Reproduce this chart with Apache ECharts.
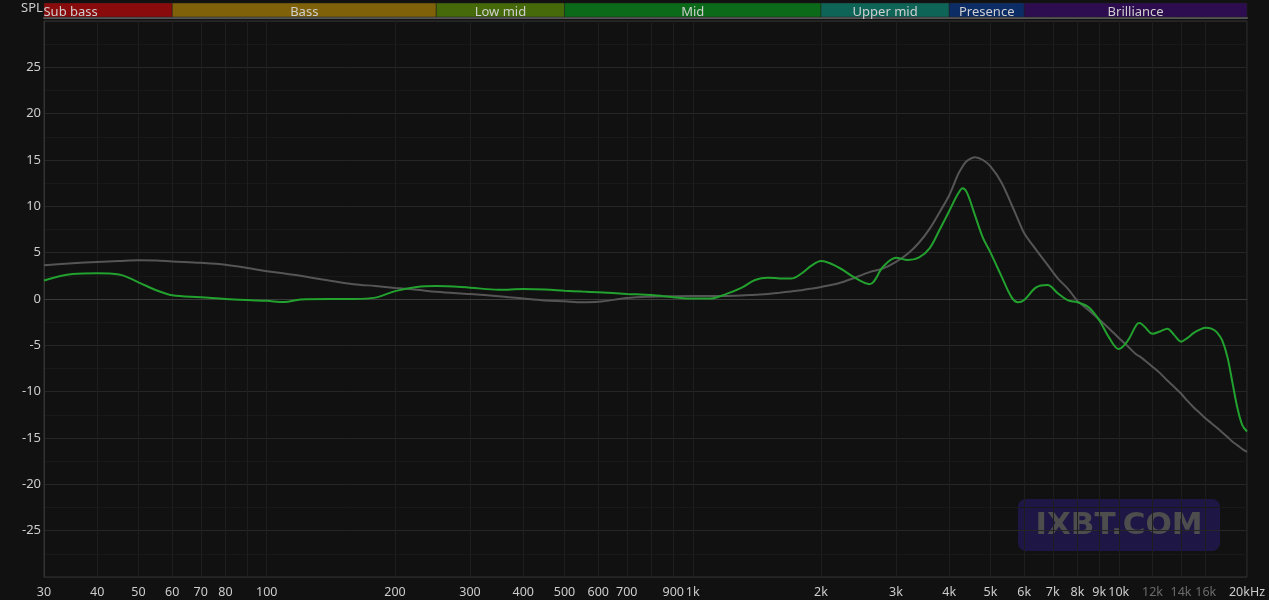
<!DOCTYPE html>
<html>
<head>
<meta charset="utf-8">
<script src="https://cdn.jsdelivr.net/npm/echarts@6/dist/echarts.min.js"></script>
<style>
html,body{margin:0;padding:0;background:#111111;}
#c{width:1269px;height:600px;}
</style>
</head>
<body>
<div id="c"></div>
<script>
// ---- data ----
const freqs = [30,35,40,45,50,55,60,70,80,90,100,110,120,140,160,180,200,225,250,300,350,400,450,500,550,600,700,800,900,1000,1100,1200,1300,1400,1500,1600,1700,1800,1900,2000,2200,2400,2600,2800,3000,3200,3400,3600,3800,4000,4200,4300,4400,4600,4800,5000,5300,5600,5800,6000,6400,6800,7200,7600,8000,8500,9000,9500,10000,10500,11000,11200,11500,12000,12500,13000,13500,14000,14500,15000,15500,16000,16500,17000,17500,18000,18500,19000,19500,20000];

const measured = [2.0,2.7,2.78,2.65,1.8,0.95,0.4,0.2,0.0,-0.12,-0.2,-0.33,-0.05,0.0,0.0,0.15,0.85,1.3,1.4,1.22,1.0,1.07,1.03,0.9,0.8,0.72,0.55,0.42,0.2,0.05,0.05,0.55,1.2,2.05,2.3,2.22,2.2,2.75,3.6,4.1,3.4,2.3,1.6,3.5,4.45,4.2,4.5,5.5,7.5,9.5,11.4,11.95,11.5,9.0,6.6,5.0,2.5,0.2,-0.35,-0.1,1.25,1.5,0.6,-0.15,-0.35,-0.9,-2.3,-4.2,-5.4,-4.5,-2.8,-2.6,-3.0,-3.75,-3.5,-3.2,-3.9,-4.6,-4.2,-3.65,-3.3,-3.1,-3.2,-3.6,-4.5,-6.3,-9.1,-11.8,-13.6,-14.3];

const target = [3.65,3.85,4.0,4.1,4.18,4.15,4.05,3.9,3.7,3.35,3.0,2.75,2.5,2.0,1.6,1.4,1.2,1.0,0.78,0.53,0.3,0.05,-0.15,-0.25,-0.35,-0.3,0.1,0.25,0.3,0.32,0.32,0.33,0.38,0.47,0.55,0.68,0.82,0.95,1.12,1.3,1.7,2.3,2.9,3.3,4.0,4.9,6.1,7.6,9.4,11.2,13.5,14.3,14.9,15.3,15.0,14.3,12.6,10.2,8.6,7.1,5.3,3.7,2.2,1.1,-0.2,-1.2,-2.2,-3.2,-4.2,-5.1,-6.0,-6.2,-6.6,-7.3,-8.0,-8.8,-9.5,-10.2,-11.0,-11.7,-12.3,-12.9,-13.4,-13.9,-14.4,-14.9,-15.4,-15.8,-16.2,-16.5];

const gridFreqs = [30,40,50,60,70,80,90,100,200,300,400,500,600,700,800,900,1000,2000,3000,4000,5000,6000,7000,8000,9000,10000,12000,14000,16000,20000];
const labelFreqs = [30,40,50,60,70,80,100,200,300,400,500,600,700,900,1000,2000,3000,4000,5000,6000,7000,8000,9000,10000,12000,14000,16000,20000];
const dimLabels = [12000,14000,16000];

const bandNames = ['Sub bass','Bass','Low mid','Mid','Upper mid','Presence','Brilliance'];
const bandStart = [20,60,250,500,2000,4000,6000];
const bandEnd   = [60,250,500,2000,4000,6000,20000];
const bandColors = ['#8a0b0b','#7e6109','#466a09','#0b6a19','#0f6458','#0c2c66','#2d0c50'];

// ---- chart ----
const FONT = '"Noto Sans", "DejaVu Sans", sans-serif';
const chart = echarts.init(document.getElementById('c'), null, {renderer:'canvas'});

function fmtFreq(v){
  let s;
  if (v >= 1000) s = (v/1000) + 'k'; else s = String(v);
  if (v === 20000) s = '20kHz';
  if (dimLabels.indexOf(v) >= 0) return '{d|' + s + '}';
  return s;
}

const bandData = bandNames.map((n,i)=>[bandStart[i], bandEnd[i], n, bandColors[i]]);

const option = {
  backgroundColor: '#111111',
  animation: false,
  grid: [
    {left:44, right:22, top:21, bottom:23, show:true, borderColor:'#333333', borderWidth:1, backgroundColor:'transparent'},
    {left:44, right:22, top:3, height:15}
  ],
  xAxis: [
    {
      type:'log', gridIndex:0, min:30, max:20000, logBase:10,
      axisLine:{show:true, lineStyle:{color:'#3a3a3a'}},
      axisTick:{show:false, customValues: gridFreqs},
      splitLine:{show:true, lineStyle:{color:'#1e1e1e', width:1}},
      minorSplitLine:{show:false},
      axisLabel:{
        customValues: labelFreqs,
        formatter: fmtFreq,
        color:'#cccccc', fontSize:12.5, fontFamily:FONT, margin:9,
        rich:{d:{color:'#6b6b6b', fontSize:12.5, fontFamily:FONT}},
        showMinLabel:true, showMaxLabel:true, hideOverlap:false
      }
    },
    {
      type:'log', gridIndex:1, min:30, max:20000, logBase:10,
      axisLine:{show:true, lineStyle:{color:'#555555', width:2}},
      axisTick:{show:false}, axisLabel:{show:false}, splitLine:{show:false}
    }
  ],
  yAxis: [
    {
      type:'value', gridIndex:0, min:-30, max:30, interval:5,
      axisLine:{show:true, lineStyle:{color:'#333333'}},
      axisTick:{show:false},
      splitLine:{show:true, lineStyle:{color:'#262626'}},
      minorTick:{show:false, splitNumber:2},
      minorSplitLine:{show:true, lineStyle:{color:'#191919'}},
      axisLabel:{
        color:'#cccccc', fontSize:13, fontFamily:FONT, margin:3,
        formatter: v => (Math.abs(v) === 30 ? '' : String(v))
      }
    },
    {
      type:'value', gridIndex:1, min:0, max:1, show:false
    }
  ],
  graphic: [
    {type:'text', left:21, top:2, z:10, style:{text:'SPL', fill:'#cccccc', font:'13px ' + FONT}},
    {
      type:'group', left:1018, top:499, z:1,
      children:[
        {type:'rect', shape:{x:0,y:0,width:202,height:52,r:8}, style:{fill:'rgba(42,28,112,0.55)'}},
        {type:'text', x:101, y:27, style:{text:'IXBT.COM', fill:'#4d4d4d', font:'bold 31px "DejaVu Sans", sans-serif', align:'center', verticalAlign:'middle'}}
      ]
    }
  ],
  series: [
    {
      type:'custom', xAxisIndex:1, yAxisIndex:1, silent:true,
      data: bandData,
      renderItem: function(params, api){
        const s = api.value(0), e = api.value(1);
        const p0 = api.coord([Math.max(s,30), 1]);
        const p1 = api.coord([e, 0]);
        const mid = api.coord([Math.sqrt(s*e), 0.5]);
        const item = bandData[params.dataIndex];
        return {
          type:'group',
          children:[
            {type:'rect', shape:{x:p0[0], y:p0[1], width:p1[0]-p0[0], height:p1[1]-p0[1]-1},
             style:{fill:item[3], stroke:'#222', lineWidth:0.5}},
            {type:'text', style:{text:item[2], x:mid[0], y:mid[1]+1.5, align:'center', verticalAlign:'middle',
             fill:'#cfcfcf', font:'13px ' + FONT}}
          ]
        };
      }
    },
    {
      name:'target', type:'line', xAxisIndex:0, yAxisIndex:0,
      data: freqs.map((f,i)=>[f, target[i]]),
      showSymbol:false, smooth:0.35, z:3,
      lineStyle:{color:'#555555', width:2}
    },
    {
      name:'measured', type:'line', xAxisIndex:0, yAxisIndex:0,
      data: freqs.map((f,i)=>[f, measured[i]]),
      showSymbol:false, smooth:0.35, z:4,
      lineStyle:{color:'#22a12e', width:2}
    }
  ]
};
chart.setOption(option);
</script>
</body>
</html>
